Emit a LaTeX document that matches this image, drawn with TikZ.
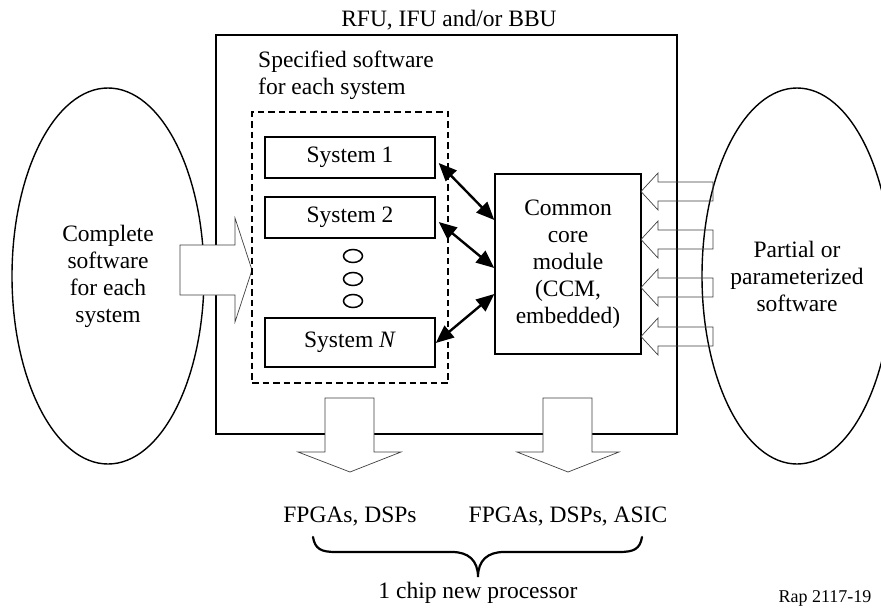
\documentclass[tikz,border=0pt]{standalone}
\usepackage{fontspec}
\setmainfont{Liberation Serif}
\usetikzlibrary{arrows.meta,calc,shapes.geometric}
\begin{document}
\begin{tikzpicture}[x=1pt,y=-1pt,
  every node/.style={font=\fontsize{23.5}{27}\selectfont,inner sep=0pt},
  bigell/.style={draw,ellipse,line width=1.4pt,minimum width=192pt,minimum height=376pt,align=center},
  sysbox/.style={draw,line width=1.4pt,minimum width=170pt,minimum height=41pt},
  dot/.style={draw,ellipse,line width=1.5pt,minimum width=19pt,minimum height=13pt},
  blk/.style={draw=black!75,line width=0.7pt,fill=white},
  hollow/.style={draw=black!75,line width=0.7pt},
  dbl/.style={line width=2.4pt,{Triangle[length=18pt,width=15pt]}-{Triangle[length=18pt,width=15pt]}},
  ]
\useasboundingbox (0,0) rectangle (881,608);
\fill[white] (0,0) rectangle (881,608);

% ellipses
\node[bigell] (left) at (108,276) {Complete\\software\\for each\\system};
\node[bigell,minimum width=190pt] (right) at (797,276) {Partial or\\parameterized\\software};

% main box
\node[draw,line width=1.4pt,minimum width=461pt,minimum height=399pt] (main) at (446.5,234.5) {};
\node[anchor=base] (title) at (449,26) {RFU, IFU and/or BBU};

% left input arrow
\draw[blk] (180,245) -- (235,245) -- (235,218) -- (252,270) -- (235,322) -- (235,295) -- (180,295) -- cycle;

% dashed group
\node[draw,line width=2pt,dash pattern=on 6.5pt off 4pt,minimum width=196pt,minimum height=271pt] (grp) at (350,247.5) {};
\node[anchor=north west,align=left] (spec) at (258,51) {Specified software\\for each system};

\node[sysbox] (sys1) at (350,157.5) {System 1};
\node[sysbox] (sys2) at (350,217.5) {System 2};
\node[sysbox,minimum height=49pt] (sysN) at (350,342.5) {System \textit{N}};
\node[dot] (o1) at (353,256) {};
\node[dot] (o2) at (353,279) {};
\node[dot] (o3) at (353,301) {};

% CCM
\node[draw,line width=1.4pt,minimum width=146pt,minimum height=180pt,align=center] (ccm) at (568,264)
  {Common\\core\\module\\(CCM,\\embedded)};

\draw[dbl] ($(sys1.east)+(3,5.5)$) -- ($(ccm.west)+(0,-44)$);
\draw[dbl] ($(sys2.east)+(3,4.5)$) -- ($(ccm.west)+(0,4)$);
\draw[dbl] ($(sysN.east)+(0,0.5)$) -- ($(ccm.west)+(0,30)$);

% right input arrows (outline only)
\foreach \c in {191.5,239.5,287.5,336.5}{
  \draw[hollow] (713,\c-9.5) -- (658,\c-9.5) -- (658,\c-18.5) -- (641,\c) -- (658,\c+18.5) -- (658,\c+9.5) -- (713,\c+9.5) -- cycle;
}

% output arrows
\draw[blk] (325,398) -- (374,398) -- (374,452) -- (401,452) -- (350,472) -- (298,452) -- (325,452) -- cycle;
\draw[blk] (543,398) -- (592,398) -- (592,452) -- (619,452) -- (568,472) -- (517,452) -- (543,452) -- cycle;

\node[anchor=base] (out1) at (350,522) {FPGAs, DSPs};
\node[anchor=base] (out2) at (568,522) {FPGAs, DSPs, ASIC};

% brace
\draw[line width=2.2pt,line cap=round] (313,537) .. controls (315,549) and (321,552) .. (336,552) -- (452,552)
  .. controls (468,552) and (478,560) .. (478,577)
  .. controls (478,560) and (488,552) .. (504,552) -- (619,552)
  .. controls (634,552) and (640,549) .. (642,537);
\node[anchor=base] (chip) at (478,598) {1 chip new processor};
\node[anchor=base,font=\fontsize{18}{20}\selectfont] (rap) at (825,602) {Rap 2117-19};
\end{tikzpicture}
\end{document}
